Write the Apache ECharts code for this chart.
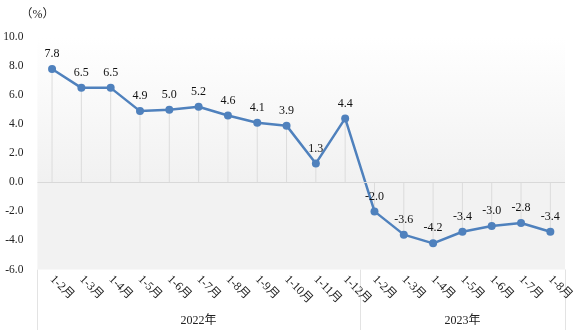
<!DOCTYPE html>
<html>
<head>
<meta charset="utf-8">
<script src="https://cdn.jsdelivr.net/npm/echarts@6/dist/echarts.min.js"></script>
<style>
  html, body { margin: 0; padding: 0; background: #fff; }
  #chart { width: 577px; height: 330px; }
</style>
</head>
<body>
<div id="chart"></div>
<script>
// Cumulative monthly growth rate (%), Jan–Dec 2022 and Jan–Aug 2023
const months = ['1-2月', '1-3月', '1-4月', '1-5月', '1-6月', '1-7月', '1-8月', '1-9月', '1-10月', '1-11月', '1-12月',
                '1-2月', '1-3月', '1-4月', '1-5月', '1-6月', '1-7月', '1-8月'];
const years = ['2022年', '2023年'];
const monthsPerYear = [11, 7];
const values = [7.8, 6.5, 6.5, 4.9, 5.0, 5.2, 4.6, 4.1, 3.9, 1.3, 4.4,
                -2.0, -3.6, -4.2, -3.4, -3.0, -2.8, -3.4];
const yTicks = { min: -6, max: 10, interval: 2 };

// Year of each month, plus group boundaries and centers for the lower axis
const yearOfMonth = [];
const groupStarts = [];
const groupCenters = [];
let acc = 0;
monthsPerYear.forEach(function (n, i) {
  groupStarts.push(acc);
  groupCenters.push(acc + Math.floor(n / 2));
  for (let k = 0; k < n; k++) yearOfMonth.push(years[i]);
  acc += n;
});

const serif = "'Times New Roman', 'Liberation Serif', 'Noto Sans CJK SC', serif";

const chart = echarts.init(document.getElementById('chart'), null, { renderer: 'canvas' });
chart.setOption({
  animation: false,
  grid: { left: 37.4, right: 12, top: 37, bottom: 60.5, containLabel: false },
  xAxis: [
    {
      type: 'category',
      data: months,
      position: 'bottom',
      boundaryGap: true,
      axisLine: { show: false },
      axisTick: { show: false },
      splitLine: { show: false },
      axisLabel: {
        interval: 0,
        rotate: -45,
        margin: 8,
        color: '#222',
        fontSize: 12,
        fontFamily: serif
      }
    },
    {
      type: 'category',
      data: yearOfMonth,
      position: 'bottom',
      boundaryGap: true,
      axisLine: { show: false },
      axisTick: {
        show: true,
        inside: false,
        length: 61,
        interval: function (index) { return groupStarts.indexOf(index) >= 0; },
        lineStyle: { color: '#e3e3e3', width: 1 }
      },
      splitLine: { show: false },
      axisLabel: {
        interval: function (index) { return groupCenters.indexOf(index) >= 0; },
        margin: 45,
        color: '#222',
        fontSize: 12,
        fontFamily: serif
      }
    }
  ],
  yAxis: {
    type: 'value',
    min: yTicks.min,
    max: yTicks.max,
    interval: yTicks.interval,
    name: '（%）',
    nameLocation: 'end',
    nameGap: 16,
    nameTextStyle: { color: '#222', fontSize: 12, fontFamily: serif, align: 'center' },
    axisLine: { show: false },
    axisTick: { show: false },
    splitLine: { show: false },
    axisLabel: {
      margin: 14,
      color: '#222',
      fontSize: 11.5,
      fontFamily: serif,
      formatter: function (v) { return v.toFixed(1); }
    }
  },
  series: [
    {
      // thin drop lines from each point to the zero line
      type: 'bar',
      data: values,
      barWidth: 1,
      itemStyle: { color: '#dcdcdc' },
      silent: true,
      z: 1,
      markArea: {
        silent: true,
        data: [
          [
            {
              yAxis: 0,
              itemStyle: {
                color: new echarts.graphic.LinearGradient(0, 0, 0, 1, [
                  { offset: 0, color: '#ffffff' },
                  { offset: 1, color: '#f1f1f1' }
                ])
              }
            },
            { yAxis: yTicks.max }
          ],
          [
            { yAxis: yTicks.min, itemStyle: { color: '#f2f2f2' } },
            { yAxis: 0 }
          ]
        ]
      },
      markLine: {
        silent: true,
        symbol: 'none',
        label: { show: false },
        lineStyle: { color: '#d9d9d9', width: 1, type: 'solid' },
        data: [{ yAxis: 0 }]
      }
    },
    {
      type: 'line',
      data: values,
      symbol: 'circle',
      symbolSize: 8,
      z: 3,
      lineStyle: { color: '#4f81bd', width: 2.5 },
      itemStyle: { color: '#4f81bd' },
      label: {
        show: true,
        position: 'top',
        distance: 5,
        color: '#111',
        fontSize: 12,
        fontFamily: serif,
        formatter: function (p) { return p.value.toFixed(1); }
      }
    }
  ]
});
</script>
</body>
</html>
